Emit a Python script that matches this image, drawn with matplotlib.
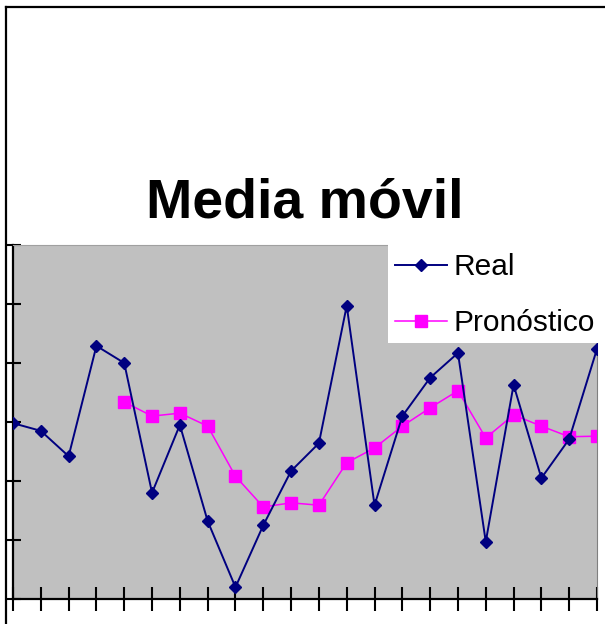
import matplotlib
matplotlib.use("Agg")
import matplotlib.pyplot as plt
from matplotlib.lines import Line2D
from matplotlib.patches import Rectangle

# Observed series and the moving-average forecast (starts at period 5)
periods = list(range(1, 23))
real = [29.8, 28.5, 24.2, 42.9, 40.0, 18.0, 29.5, 13.2, 2.0, 12.5, 21.7,
        26.4, 49.7, 15.9, 31.0, 37.5, 41.7, 9.7, 36.3, 20.5, 27.1, 42.4]
forecast_periods = list(range(5, 23))
forecast = [33.4, 31.0, 31.5, 29.3, 20.8, 15.6, 16.3, 15.9, 23.1, 25.6,
            29.3, 32.4, 35.3, 27.3, 31.2, 29.3, 27.5, 27.6]

W, H = 605, 624
FONT = ["Liberation Sans", "DejaVu Sans"]

fig = plt.figure(figsize=(W / 100, H / 100), dpi=100)
fig.patch.set_facecolor("white")

# plot area in pixel terms
left, right, top, bottom = 13, 597, 245, 599
ax = fig.add_axes([left / W, 1 - bottom / H, (right - left) / W, (bottom - top) / H])
ax.set_facecolor("#C0C0C0")

ax.plot(periods, real, color="#000080", lw=1.4, marker="D", ms=6,
        mfc="#000080", mec="#000080", label="Real", zorder=3)
ax.plot(forecast_periods, forecast, color="#FF00FF", lw=1.1, marker="s", ms=8,
        mfc="#FF00FF", mec="#FF00FF", label="Pronóstico", zorder=2)

ax.set_xlim(1, 22)
ax.set_ylim(0, 60)
ax.set_xticks(periods)
ax.set_yticks(range(0, 61, 10))
ax.tick_params(axis="x", direction="inout", length=17, width=1.5, color="black",
               labelbottom=False)
ax.tick_params(axis="y", direction="inout", length=11, width=1.5, color="black",
               labelleft=False)
for side in ("left", "bottom"):
    ax.spines[side].set_color("black")
    ax.spines[side].set_linewidth(1.6)
ax.spines["right"].set_color("#808080")
ax.spines["right"].set_linewidth(0.8)
ax.spines["top"].set_color("#A0A0A0")
ax.spines["top"].set_linewidth(0.8)

# chart frame (only top and left edges fall inside the image)
fig.add_artist(Line2D([6 / W, 1], [1 - 7 / H, 1 - 7 / H], color="black", lw=1.6))
fig.add_artist(Line2D([6 / W, 6 / W], [0, 1 - 7 / H], color="black", lw=1.6))

fig.text(305 / W, 1 - 217 / H, "Media móvil", ha="center", va="baseline",
         fontsize=40, fontweight="bold", family=FONT)

# legend on a white box running off the right edge
fig.add_artist(Rectangle((388 / W, 1 - 343 / H), (W - 388) / W, 100 / H,
                         transform=fig.transFigure, facecolor="white",
                         edgecolor="none", zorder=4))
handles, labels = ax.get_legend_handles_labels()
fig.legend(handles, labels, loc="upper left", bbox_to_anchor=(395 / W, 1 - 253 / H),
           frameon=False, borderpad=0, borderaxespad=0, handlelength=1.75,
           handletextpad=0.2, labelspacing=0.95, prop={"family": FONT, "size": 21.5})

fig.savefig("out.png", dpi=100)
